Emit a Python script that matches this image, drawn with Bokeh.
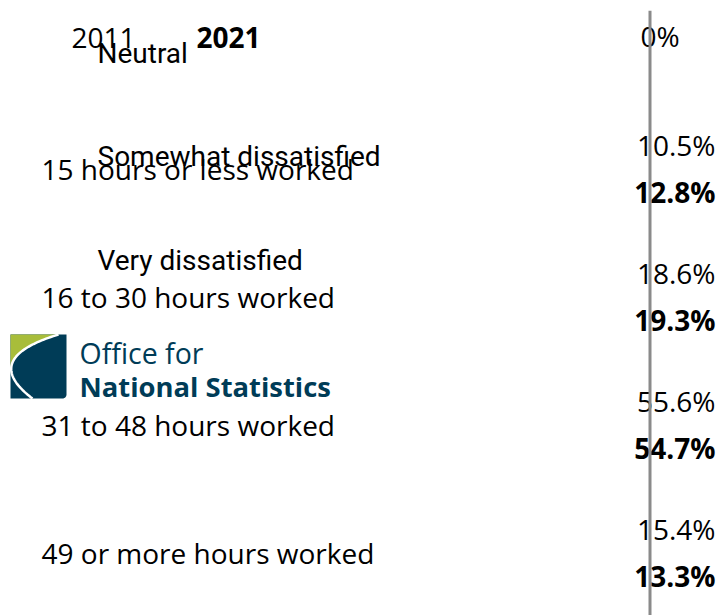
import numpy as np
from bokeh.plotting import figure
from bokeh.models import Range1d, Span
from bokeh.core.properties import value
from bokeh.embed import file_html
from bokeh.resources import INLINE

# ---- data ----
categories = ["15 hours or less worked", "16 to 30 hours worked",
              "31 to 48 hours worked", "49 or more hours worked"]
values_2011 = [10.5, 18.6, 55.6, 15.4]
values_2021 = [12.8, 19.3, 54.7, 13.3]
years = ["2011", "2021"]
legend_labels = ["Neutral", "Somewhat dissatisfied", "Very dissatisfied"]
axis_ticks = [0]
logo_lines = ["Office for", "National Statistics"]

# ---- layout helpers (canvas px -> data) ----
W, H = 718, 615
TOP_BORDER = 10
ZERO_PX = 649.5            # canvas x of the 0% line
ROW = 128.0                # px per category
CAT0 = 168.0               # canvas y anchor of first category label
TOP = -(CAT0 - TOP_BORDER) / ROW
BOTTOM = TOP + (H - TOP_BORDER) / ROW
TXT = 10.0                 # text anchor correction


def X(px):
    return px - ZERO_PX


def Y(py):
    return TOP + (py - TOP_BORDER) / ROW


def YT(py):
    return Y(py - TXT)


p = figure(width=W, height=H, output_backend="svg", toolbar_location=None,
           x_range=Range1d(-ZERO_PX, W - ZERO_PX), y_range=Range1d(BOTTOM, TOP),
           x_axis_location=None, y_axis_location=None,
           min_border_left=0, min_border_right=0, min_border_bottom=0,
           min_border_top=TOP_BORDER)
p.grid.visible = False
p.outline_line_color = None
p.background_fill_color = "white"
p.border_fill_color = "white"

OS = value("Open Sans")
RB = value("Roboto")
FS = "28px"

# zero axis line
for t in axis_ticks:
    p.add_layout(Span(location=t, dimension="height", line_color="#8a8a8a", line_width=3))
    p.text(x=[t], y=[YT(45)], text=[f"{t}%"], text_font=OS, text_font_size=FS,
           text_color="black", text_baseline="alphabetic", text_align="left", x_offset=-9.5)

idx = np.arange(len(categories))

# category labels
p.text(x=[X(41)] * len(categories), y=idx, text=categories, text_font=OS,
       text_font_size=FS, text_color="black", text_baseline="alphabetic", text_align="left")

# value labels
dy = 23.5 / ROW
p.text(x=[0] * len(values_2011), y=idx - dy, text=[f"{v:.1f}%" for v in values_2011],
       text_font=OS, text_font_size=FS, text_color="black", text_baseline="alphabetic",
       text_align="right", x_offset=65.5)
p.text(x=[0] * len(values_2021), y=idx + dy, text=[f"{v:.1f}%" for v in values_2021],
       text_font=OS, text_font_size=FS, text_font_style="bold", text_color="black",
       text_baseline="alphabetic", text_align="right", x_offset=65.5)

# year legend
p.text(x=[X(71)], y=[YT(47)], text=[years[0]], text_font=OS, text_font_size=FS,
       text_color="black", text_baseline="alphabetic")
p.text(x=[X(196)], y=[YT(47)], text=[years[1]], text_font=OS, text_font_size=FS,
       text_font_style="bold", text_color="black", text_baseline="alphabetic")

# satisfaction legend labels
p.text(x=[X(97)] * 3, y=[YT(63), YT(166), YT(270)], text=legend_labels, text_font=RB,
       text_font_size=FS, text_color="black", text_baseline="alphabetic")

# ---- ONS logo ----
BLUE = "#003C57"
GREEN = "#A8BD3A"
r = 4
ang = np.linspace(0, np.pi / 2, 8)
bx = [10, 66] + list(66 - r + r * np.cos(ang)) + [10]
by = [334, 334] + list(398 - r + r * np.sin(ang)) + [398]
p.patch(x=[X(v) for v in bx], y=[Y(v) for v in by], fill_color=BLUE, line_color=None)

P0, P1, P2 = np.array([58, 334]), np.array([-21, 358]), np.array([32, 398])
t = np.linspace(0, 1, 60)
curve = (np.outer((1 - t) ** 2, P0) + np.outer(2 * t * (1 - t), P1) + np.outer(t ** 2, P2))
ts = t <= 0.56
gx = [10, 58] + list(curve[ts, 0]) + [10]
gy = [334, 334] + list(curve[ts, 1]) + [curve[ts, 1][-1]]
p.patch(x=[X(v) for v in gx], y=[Y(v) for v in gy], fill_color=GREEN, line_color=None)
p.line(x=[X(v) for v in curve[:, 0]], y=[Y(v) for v in curve[:, 1]], line_color="white",
       line_width=2.5)

p.text(x=[X(79)], y=[YT(362)], text=[logo_lines[0]], text_font=OS, text_font_size="28.5px",
       text_color=BLUE, text_baseline="alphabetic")
p.text(x=[X(79)], y=[YT(396)], text=[logo_lines[1]], text_font=OS, text_font_size="27.4px",
       text_font_style="bold", text_color=BLUE, text_baseline="alphabetic")

open("out.html", "w").write(file_html(p, INLINE))
